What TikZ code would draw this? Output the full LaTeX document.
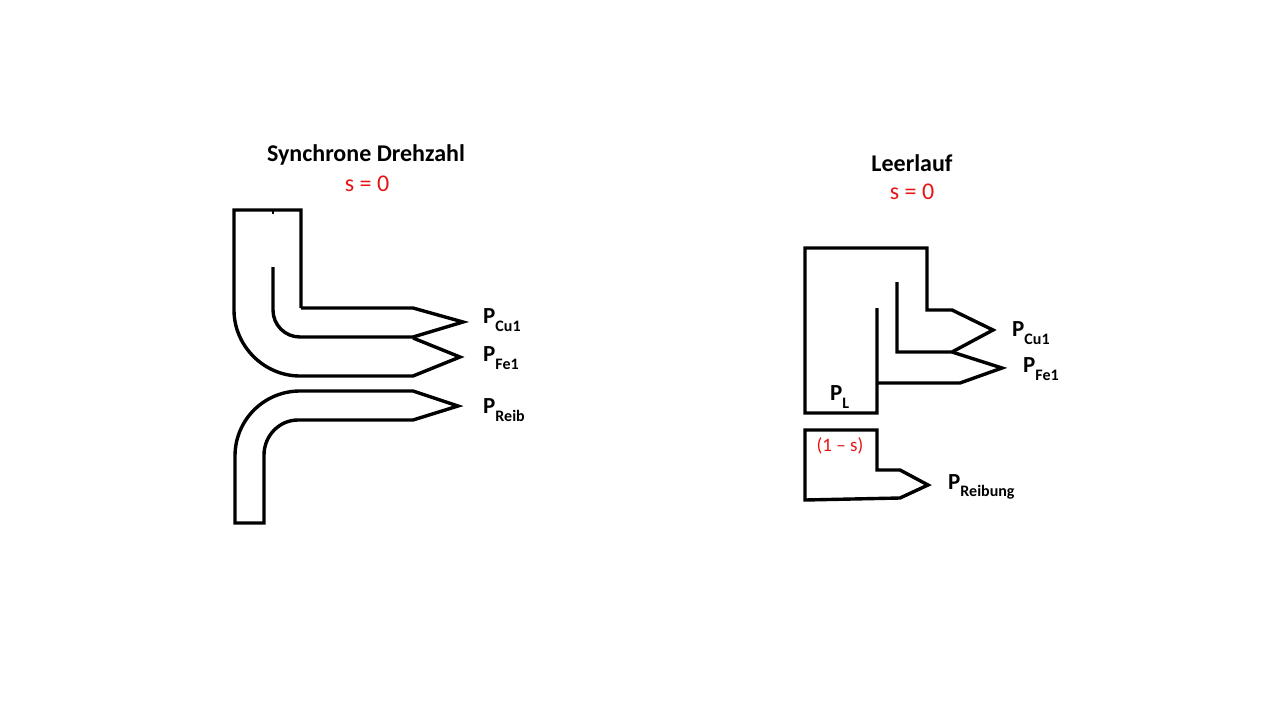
\documentclass[tikz,border=0pt]{standalone}
\usepackage{fontspec}
\setmainfont{Carlito}
\definecolor{slipred}{RGB}{230,20,20}
\newcommand{\Pidx}[1]{P\raisebox{-0.32em}{\fontsize{16}{16}\selectfont #1}}
\begin{document}
\begin{tikzpicture}[x=1pt,y=-1pt,
    flow/.style={line width=3.4pt, line join=miter},
    title/.style={font=\fontsize{24}{24}\selectfont\bfseries},
    slip/.style={font=\fontsize{24}{24}\selectfont, text=slipred},
    plabel/.style={anchor=west, font=\fontsize{23}{23}\selectfont\bfseries, inner sep=0pt}]
    \useasboundingbox (0,0) rectangle (1280,720);
    % synchrone drehzahl
    \draw [flow] (301,308) -- (301,210) -- (234,210) -- (234,310) .. controls (234,346) and (264,376) .. (300,376) -- (413,376) -- (460,357) -- (413,338);
    \draw [flow] (273,267) -- (273,310) .. controls (273,325) and (285,337) .. (300,337) -- (413,337) -- (463,322) -- (413,308) -- (301,308);
    \draw [line width=2pt] (273,210) -- (273,214);
    \draw [flow] (235,523) -- (235,456) .. controls (235,420) and (264,391) .. (300,391) -- (413,391) -- (458,406) -- (413,420) -- (298,420) .. controls (279,420) and (264,436) .. (264,455) -- (264,523) -- cycle;
    % leerlauf
    \draw [flow] (877,308) -- (877,413) -- (805,413) -- (805,248) -- (927,248) -- (927,310) -- (952,310) -- (993,330) -- (952,352) -- (897,352) -- (897,282);
    \draw [flow] (952,352) -- (1002,368) -- (960,383) -- (877,383);
    \draw [flow] (805,430) -- (877,430) -- (877,470) -- (900,470) -- (928,485) -- (900,498) -- (805,500) -- cycle;
    % titles
    \node [title] (synctitle) at (366,155) {Synchrone Drehzahl};
    \node [slip] (syncslip) at (367,184) {s = 0};
    \node [title] (idletitle) at (912,163) {Leerlauf};
    \node [slip] (idleslip) at (912,192) {s = 0};
    % labels
    \node [plabel] (synccu) at (483,320) {\Pidx{Cu1}};
    \node [plabel] (syncfe) at (483,358) {\Pidx{Fe1}};
    \node [plabel] (syncreib) at (483,410) {\Pidx{Reib}};
    \node [plabel] (idlecu) at (1012,333) {\Pidx{Cu1}};
    \node [plabel] (idlefe) at (1023,369) {\Pidx{Fe1}};
    \node [plabel] (idlel) at (830,397) {\Pidx{L}};
    \node [plabel] (idlereib) at (948,487) {\Pidx{Reibung}};
    \node [slip, font=\fontsize{19}{19}\selectfont] (idlefactor) at (840,446) {(1 -- s)};
\end{tikzpicture}
\end{document}
